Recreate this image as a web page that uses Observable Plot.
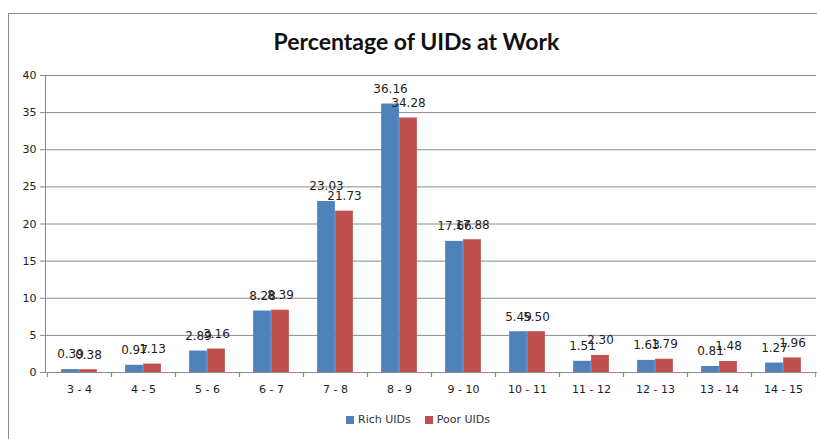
<!DOCTYPE html>
<html>
<head>
<meta charset="utf-8">
<script src="https://cdn.jsdelivr.net/npm/d3@7"></script>
<script src="https://cdn.jsdelivr.net/npm/@observablehq/plot@0.6"></script>
<style>
  html, body { margin: 0; padding: 0; background: #fff; }
  #wrap { position: relative; width: 817px; height: 439px; overflow: hidden; }
  #frame { position: absolute; left: 8px; top: 13px; width: 900px; height: 500px; border-left: 1px solid #8a8a8a; border-top: 1px solid #8a8a8a; }
  #title { position: absolute; left: 8px; width: 817px; top: 27px; text-align: center; font-family: Lato, "Open Sans", sans-serif; font-weight: bold; font-size: 23px; color: #111; }
  #chart { position: absolute; left: 0; top: 0; }
  #legend { position: absolute; top: 413px; left: 346px; font-family: "DejaVu Sans", sans-serif; font-size: 11px; color: #333; display: flex; align-items: center; }
  .sw { display: inline-block; width: 8px; height: 8px; margin-right: 4px; }
  .item { display: flex; align-items: center; margin-right: 14px; }
</style>
</head>
<body>
<div id="wrap">
  <div id="frame"></div>
  <div id="title">Percentage of UIDs at Work</div>
  <div id="chart"></div>
  <div id="legend"></div>
</div>
<script>
const categories = ["3 - 4", "4 - 5", "5 - 6", "6 - 7", "7 - 8", "8 - 9", "9 - 10", "10 - 11", "11 - 12", "12 - 13", "13 - 14", "14 - 15"];
const richUIDs = [0.39, 0.97, 2.89, 8.28, 23.03, 36.16, 17.66, 5.49, 1.51, 1.63, 0.81, 1.27];
const poorUIDs = [0.38, 1.13, 3.16, 8.39, 21.73, 34.28, 17.88, 5.50, 2.30, 1.79, 1.48, 1.96];
const seriesNames = ["Rich UIDs", "Poor UIDs"];
const seriesColors = ["#4F81BD", "#C0504D"];
const yTicks = [0, 5, 10, 15, 20, 25, 30, 35, 40];

const data = categories.map((c, i) => ({cat: c, rich: richUIDs[i], poor: poorUIDs[i]}));

const W = 817, H = 400, ML = 45, MR = 1, MT = 75, MB = 28;
const bw = (W - ML - MR) / categories.length;
const barW = 18;
const axisColor = "#8a8a8a";

const chart = Plot.plot({
  width: W, height: H,
  marginTop: MT, marginBottom: MB, marginLeft: ML, marginRight: MR,
  style: {fontFamily: "DejaVu Sans, sans-serif", fontSize: "11px", color: "#222", background: "transparent", overflow: "visible"},
  x: {domain: categories, padding: 0, label: null},
  y: {domain: [0, 40], ticks: yTicks, label: null},
  marks: [
    Plot.gridY(yTicks, {stroke: axisColor, strokeOpacity: 1}),
    Plot.frame({anchor: "left", stroke: axisColor}),
    Plot.frame({anchor: "bottom", stroke: axisColor}),
    Plot.axisY(yTicks, {tickSize: 5, tickPadding: 4, stroke: axisColor, fill: "#222", label: null}),
    Plot.barY(data, {x: "cat", y: "rich", fill: seriesColors[0], insetLeft: bw / 2 - barW, insetRight: bw / 2}),
    Plot.barY(data, {x: "cat", y: "poor", fill: seriesColors[1], insetLeft: bw / 2, insetRight: bw / 2 - barW}),
    Plot.text(data, {x: "cat", y: "rich", text: d => d.rich.toFixed(2), dx: -barW / 2, dy: -15, fontSize: 12, fill: "#222"}),
    Plot.text(data, {x: "cat", y: "poor", text: d => d.poor.toFixed(2), dx: barW / 2, dy: -15, fontSize: 12, fill: "#222"}),
    Plot.axisX({tickSize: 5, dx: -bw / 2, tickFormat: () => "", stroke: axisColor, label: null}),
    Plot.axisX({tickSize: 5, dx: bw / 2, tickFormat: () => "", stroke: axisColor, label: null}),
    Plot.axisX({tickSize: 0, tickPadding: 13, fill: "#222", label: null})
  ]
});
document.getElementById("chart").appendChild(chart);

const legend = document.getElementById("legend");
seriesNames.forEach((name, i) => {
  const item = document.createElement("div");
  item.className = "item";
  const sw = document.createElement("span");
  sw.className = "sw";
  sw.style.background = seriesColors[i];
  const t = document.createElement("span");
  t.textContent = name;
  item.appendChild(sw);
  item.appendChild(t);
  legend.appendChild(item);
});
</script>
</body>
</html>
